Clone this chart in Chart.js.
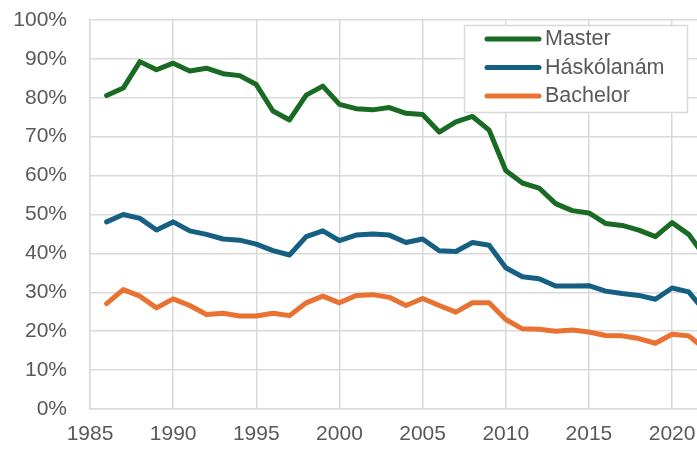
<!DOCTYPE html>
<html>
<head>
<meta charset="utf-8">
<script src="https://cdn.jsdelivr.net/npm/chart.js@4"></script>
<style>
  html, body { margin: 0; padding: 0; background: #ffffff; }
  #wrap { position: relative; width: 697px; height: 450px; }
</style>
</head>
<body>
<div id="wrap"><canvas id="c" width="697" height="450"></canvas></div>
<script>
const years = [1986,1987,1988,1989,1990,1991,1992,1993,1994,1995,1996,1997,1998,1999,2000,2001,2002,2003,2004,2005,2006,2007,2008,2009,2010,2011,2012,2013,2014,2015,2016,2017,2018,2019,2020,2021,2022];
const seriesNames = ["Master", "Háskólanám", "Bachelor"];
const master = [80.6,82.5,89.3,87.2,88.9,86.9,87.6,86.2,85.7,83.4,76.6,74.3,80.7,83.0,78.3,77.2,76.9,77.5,76.0,75.7,71.2,73.8,75.2,71.7,61.3,58.1,56.8,52.8,51.0,50.4,47.7,47.2,46.0,44.3,47.9,44.9,39.0];
const haskolanam = [48.1,50.0,49.0,46.0,48.1,45.8,44.9,43.7,43.4,42.4,40.7,39.6,44.3,45.8,43.3,44.7,45.0,44.7,42.8,43.7,40.7,40.5,42.8,42.1,36.3,34.0,33.5,31.6,31.6,31.7,30.3,29.7,29.2,28.2,31.1,30.1,25.0];
const bachelor = [27.1,30.7,29.0,26.0,28.3,26.6,24.3,24.6,23.9,23.9,24.6,24.0,27.3,29.0,27.3,29.2,29.4,28.7,26.6,28.4,26.6,24.9,27.3,27.3,23.0,20.6,20.5,20.0,20.3,19.8,18.9,18.8,18.1,16.9,19.2,18.8,15.4];
const xTicks = [1985,1990,1995,2000,2005,2010,2015,2020];
const yTicks = [0,10,20,30,40,50,60,70,80,90,100];

const colors = ["#196B24", "#156082", "#E97132"];
const values = [master, haskolanam, bachelor];
const FONT = "'Liberation Sans', Arial, sans-serif";
const TXT = "#595959";
const GRID = "#d9d9d9";

const datasets = seriesNames.map((n, i) => ({
  label: n,
  data: years.map((y, k) => ({ x: y, y: values[i][k] })),
  borderColor: colors[i],
  backgroundColor: colors[i],
  borderWidth: 5,
  pointRadius: 0,
  tension: 0,
  borderJoinStyle: 'round',
  borderCapStyle: 'round'
}));

const boxLegend = {
  id: 'boxLegend',
  afterDatasetsDraw(chart) {
    const ctx = chart.ctx;
    const x0 = 464.5, y0 = 25.5, w = 223, h = 87;
    ctx.save();
    ctx.fillStyle = '#ffffff';
    ctx.fillRect(x0, y0, w, h);
    ctx.strokeStyle = GRID;
    ctx.lineWidth = 1.5;
    ctx.strokeRect(x0, y0, w, h);
    chart.data.datasets.forEach((ds, i) => {
      const cy = 39 + i * 28.5;
      ctx.strokeStyle = ds.borderColor;
      ctx.lineWidth = 5;
      ctx.lineCap = 'round';
      ctx.beginPath();
      ctx.moveTo(487, cy);
      ctx.lineTo(539, cy);
      ctx.stroke();
      ctx.fillStyle = TXT;
      ctx.font = "21.5px " + FONT;
      ctx.textBaseline = 'middle';
      ctx.textAlign = 'left';
      ctx.fillText(ds.label, 545, cy + 0.5);
    });
    ctx.restore();
  }
};

new Chart(document.getElementById('c'), {
  type: 'line',
  data: { datasets },
  plugins: [boxLegend],
  options: {
    responsive: false,
    animation: false,
    devicePixelRatio: 1,
    layout: { padding: { top: 20, right: 0, left: 0, bottom: 0 } },
    plugins: { legend: { display: false }, tooltip: { enabled: false } },
    scales: {
      x: {
        type: 'linear',
        min: 1985,
        max: 2021.5,
        afterBuildTicks(scale) { scale.ticks = xTicks.map(v => ({ value: v })); },
        ticks: {
          includeBounds: false,
          autoSkip: false,
          maxRotation: 0,
          padding: 13,
          color: TXT,
          font: { family: FONT, size: 21 },
          callback: v => String(v)
        },
        grid: { color: GRID, lineWidth: 1.5, drawTicks: false },
        border: { color: GRID, width: 1.5 },
        afterFit(scale) { scale.height = 41; scale.paddingRight = 0; scale.paddingLeft = 0; }
      },
      y: {
        min: 0,
        max: 100,
        afterBuildTicks(scale) { scale.ticks = yTicks.map(v => ({ value: v })); },
        ticks: {
          padding: 23,
          color: TXT,
          font: { family: FONT, size: 21 },
          callback: v => v + '%'
        },
        grid: { color: GRID, lineWidth: 1.5, drawTicks: false },
        border: { color: GRID, width: 1.5 },
        afterFit(scale) { scale.width = 90; scale.paddingTop = 0; scale.paddingBottom = 0; }
      }
    }
  }
});
</script>
</body>
</html>
